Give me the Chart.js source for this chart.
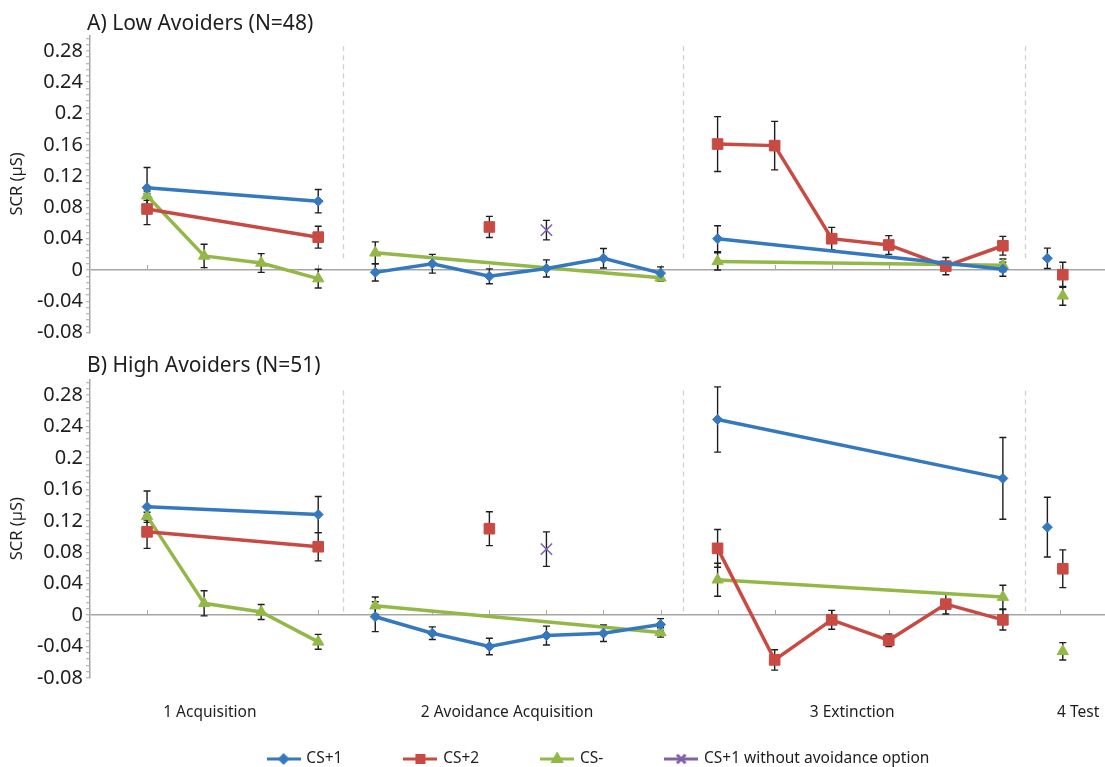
<!DOCTYPE html>
<html>
<head>
<meta charset="utf-8">
<script src="https://cdn.jsdelivr.net/npm/chart.js@4.4.1/dist/chart.umd.min.js"></script>
<style>
  html, body { margin: 0; padding: 0; background: #fff; overflow: hidden; }
  #wrap { position: relative; width: 1105px; height: 767px; }
  canvas { position: absolute; left: 0; }
  #chartA { top: 0; }
  #chartB { top: 340px; }
</style>
</head>
<body>
<div id="wrap">
  <canvas id="chartA" width="1105" height="350"></canvas>
  <canvas id="chartB" width="1105" height="445"></canvas>
</div>
<script>
// trial slots on the x axis and the phase each one belongs to
const trialSlots = [1, 2, 3, 4, 5, 6, 7, 8, 9, 10, 11, 12, 13, 14, 15, 16, 17];
const trialPhase = [1, 1, 1, 1, 2, 2, 2, 2, 2, 2, 3, 3, 3, 3, 3, 3, 4];
const phaseLabels = ['1 Acquisition', '2 Avoidance Acquisition', '3 Extinction', '4 Test'];
const phaseLabelAt = [2.1, 7.31, 13.36, 17.32];
const phaseBreaks = [4.43, 10.39, 16.39];
const yTicks = [-0.08, -0.04, 0, 0.04, 0.08, 0.12, 0.16, 0.2, 0.24, 0.28];
const seriesNames = ['CS+1', 'CS+2', 'CS-', 'CS+1 without avoidance option'];

// A) Low avoiders: means and standard errors per trial slot
const lowCs1 = [0.105, null, null, 0.088, -0.003, 0.008, -0.008, 0.002, 0.015, -0.004, 0.040, null, null, null, null, 0.001, 0.015];
const lowCs1Se = [0.026, null, null, 0.015, 0.011, 0.012, 0.0095, 0.011, 0.0125, 0.008, 0.0166, null, null, null, null, 0.009, 0.013];
const lowCs2 = [0.078, null, null, 0.042, null, null, 0.055, null, null, null, 0.161, 0.159, 0.040, 0.032, 0.005, 0.031, -0.006];
const lowCs2Se = [0.020, null, null, 0.014, null, null, 0.0135, null, null, null, 0.035, 0.031, 0.0145, 0.012, 0.011, 0.012, 0.016];
const lowCsMinus = [0.095, 0.018, 0.009, -0.011, 0.022, null, null, null, null, -0.010, 0.011, null, null, null, null, 0.006, -0.033];
const lowCsMinusSe = [0.006, 0.015, 0.012, 0.012, 0.014, null, null, null, null, 0.004, 0.011, null, null, null, null, 0.008, 0.012];
const lowNoAvoid = [null, null, null, null, null, null, null, 0.051, null, null, null, null, null, null, null, null, null];
const lowNoAvoidSe = [null, null, null, null, null, null, null, 0.0125, null, null, null, null, null, null, null, null, null];

// B) High avoiders
const highCs1 = [0.138, null, null, 0.128, -0.002, -0.023, -0.040, -0.026, -0.023, -0.012, 0.249, null, null, null, null, 0.174, 0.112];
const highCs1Se = [0.020, null, null, 0.023, 0.019, 0.008, 0.0105, 0.012, 0.0105, 0.0075, 0.0415, null, null, null, null, 0.052, 0.038];
const highCs2 = [0.106, null, null, 0.087, null, null, 0.110, null, null, null, 0.085, -0.057, -0.006, -0.032, 0.014, -0.006, 0.059];
const highCs2Se = [0.021, null, null, 0.018, null, null, 0.0215, null, null, null, 0.024, 0.013, 0.012, 0.008, 0.0125, 0.013, 0.024];
const highCsMinus = [0.126, 0.015, 0.004, -0.034, 0.012, null, null, null, null, -0.022, 0.045, null, null, null, null, 0.023, -0.046];
const highCsMinusSe = [0.005, 0.016, 0.0095, 0.0095, 0.011, null, null, null, null, 0.006, 0.021, null, null, null, null, 0.015, 0.011];
const highNoAvoid = [null, null, null, null, null, null, null, 0.084, null, null, null, null, null, null, null, null, null];
const highNoAvoidSe = [null, null, null, null, null, null, null, 0.022, null, null, null, null, null, null, null, null, null];

const seriesColors = ['#3479bf', '#c94a43', '#93b847', '#8062a8'];
const markerStyles = ['rectRot', 'rect', 'triangle', 'crossRot'];
const markerRadius = [5, 7.5, 6.5, 8];
const testShift = [-0.22, 0.05, 0.05, 0];
const FONT = 'Noto Sans';
const GRAY = '#a6a6a6';

// hide the line where it would jump from one phase into the next
function onPhaseBreak(ctx) {
  const data = ctx.chart.data.datasets[ctx.datasetIndex].data;
  let i = ctx.p1DataIndex - 1;
  while (i > 0 && data[i].y === null) i--;
  return trialPhase[i] !== trialPhase[ctx.p1DataIndex] ? 'rgba(0,0,0,0)' : undefined;
}

function buildSets(values, errors) {
  return seriesNames.map((name, si) => ({
    label: name,
    data: trialSlots.map((s, i) => ({
      x: s + (trialPhase[i] === 4 ? testShift[si] : 0),
      y: values[si][i]
    })),
    se: errors[si],
    borderColor: seriesColors[si],
    backgroundColor: seriesColors[si],
    borderWidth: 3.5,
    pointStyle: markerStyles[si],
    pointRadius: markerRadius[si],
    pointBorderWidth: si === 3 ? 1.6 : 1,
    pointBorderColor: seriesColors[si],
    pointBackgroundColor: seriesColors[si],
    showLine: si !== 3,
    spanGaps: true,
    tension: 0,
    segment: { borderColor: onPhaseBreak }
  }));
}

// error bars drawn from each dataset's se array
const errorBars = {
  id: 'errorBars',
  beforeDatasetsDraw(chart) {
    const ctx = chart.ctx;
    const y = chart.scales.y;
    ctx.save();
    ctx.strokeStyle = '#1e1e1e';
    ctx.lineWidth = 1.4;
    chart.data.datasets.forEach((ds, di) => {
      const meta = chart.getDatasetMeta(di);
      ds.se.forEach((se, i) => {
        const v = ds.data[i].y;
        if (v === null || se === null) return;
        const px = meta.data[i].x;
        const top = y.getPixelForValue(v + se);
        const bot = y.getPixelForValue(v - se);
        ctx.beginPath();
        ctx.moveTo(px, top); ctx.lineTo(px, bot);
        ctx.moveTo(px - 3.5, top); ctx.lineTo(px + 3.5, top);
        ctx.moveTo(px - 3.5, bot); ctx.lineTo(px + 3.5, bot);
        ctx.stroke();
      });
    });
    ctx.restore();
  }
};

// dashed phase separators, category ticks, panel title, phase labels
const panelDecor = {
  id: 'panelDecor',
  beforeDatasetsDraw(chart, args, opts) {
    const ctx = chart.ctx;
    const x = chart.scales.x, y = chart.scales.y;
    ctx.save();
    ctx.strokeStyle = '#d0d0d0';
    ctx.lineWidth = 1.3;
    ctx.setLineDash([5, 4]);
    phaseBreaks.forEach(b => {
      const px = Math.round(x.getPixelForValue(b)) + 0.5;
      ctx.beginPath();
      ctx.moveTo(px, y.getPixelForValue(0.286));
      ctx.lineTo(px, y.getPixelForValue(opts.breakBottom));
      ctx.stroke();
    });
    ctx.setLineDash([]);
    ctx.strokeStyle = GRAY;
    ctx.lineWidth = 1;
    const y0 = y.getPixelForValue(0);
    trialSlots.forEach(s => {
      const px = Math.round(x.getPixelForValue(s)) + 0.5;
      ctx.beginPath(); ctx.moveTo(px, y0); ctx.lineTo(px, y0 - 5); ctx.stroke();
    });
    ctx.restore();
  },
  afterDraw(chart, args, opts) {
    const ctx = chart.ctx;
    ctx.save();
    ctx.fillStyle = '#1e1e1e';
    ctx.font = '21px "' + FONT + '"';
    ctx.textAlign = 'left';
    ctx.textBaseline = 'alphabetic';
    ctx.fillText(opts.title, 87, opts.titleBaseline);
    if (opts.phaseY) {
      const x = chart.scales.x;
      ctx.font = '15.5px "' + FONT + '"';
      ctx.textAlign = 'center';
      ctx.textBaseline = 'middle';
      phaseLabels.forEach((t, i) => ctx.fillText(t, x.getPixelForValue(phaseLabelAt[i]), opts.phaseY));
    }
    ctx.restore();
  },
  afterLayout(chart, args, opts) {
    if (opts.legendShift && chart.legend) {
      chart.legend.left += opts.legendShift;
      chart.legend.right += opts.legendShift;
    }
  }
};

function yAxis() {
  return {
    min: -0.08,
    max: 0.3,
    afterBuildTicks(scale) {
      const vals = [];
      yTicks.forEach(t => { for (let k = 0; k < 5; k++) vals.push(k === 0 ? t : t + k * 0.008); });
      scale.ticks = vals.filter(v => v <= 0.2999).map(v => ({ value: v }));
    },
    afterFit(scale) { scale.width = 90; },
    border: { color: GRAY, width: 1.5 },
    grid: {
      drawOnChartArea: true,
      color: c => (c.tick && c.tick.value === 0) ? GRAY : 'rgba(0,0,0,0)',
      lineWidth: 1.5,
      tickColor: GRAY,
      tickLength: 4,
      tickWidth: 1
    },
    ticks: {
      autoSkip: false,
      padding: 3,
      color: '#1e1e1e',
      font: { family: FONT, size: 20 },
      callback: v => yTicks.includes(v) ? String(v) : ''
    },
    title: {
      display: true,
      text: 'SCR (µS)',
      color: '#1e1e1e',
      font: { family: FONT, size: 16.5 },
      padding: { top: 7, bottom: 0 }
    }
  };
}

function legendIcon(si) {
  const c = document.createElement('canvas');
  c.width = 34; c.height = 14;
  const g = c.getContext('2d');
  g.strokeStyle = seriesColors[si];
  g.fillStyle = seriesColors[si];
  g.lineWidth = 3;
  g.beginPath(); g.moveTo(0, 7); g.lineTo(34, 7); g.stroke();
  const r = [3.8, 5, 4.8, 6][si];
  Chart.helpers.drawPoint(g, { pointStyle: markerStyles[si], radius: r, borderWidth: si === 3 ? 1.4 : 1, rotation: 0 }, 17, 7);
  return c;
}

function makeChart(id, values, errors, panel) {
  const isB = panel.legend;
  return new Chart(document.getElementById(id), {
    type: 'line',
    data: { datasets: buildSets(values, errors) },
    plugins: [panelDecor, errorBars],
    options: {
      responsive: false,
      animation: false,
      layout: { padding: panel.padding, autoPadding: false },
      scales: {
        x: {
          type: 'linear',
          min: 0,
          max: 17.79,
          display: isB,
          grid: { display: false, drawTicks: false },
          border: { display: false },
          ticks: { display: false },
          afterFit(scale) { scale.height = isB ? 10.25 : 0; }
        },
        y: yAxis()
      },
      plugins: {
        tooltip: { enabled: false },
        legend: {
          display: isB,
          position: 'bottom',
          labels: {
            usePointStyle: true,
            pointStyleWidth: 30,
            padding: 63,
            color: '#1e1e1e',
            font: { family: FONT, size: 15.5 },
            generateLabels: chart => chart.data.datasets.map((ds, i) => ({
              text: ds.label,
              pointStyle: legendIcon(i),
              fillStyle: seriesColors[i],
              strokeStyle: seriesColors[i],
              lineWidth: 0,
              hidden: false,
              datasetIndex: i,
              fontColor: '#1e1e1e'
            }))
          }
        },
        panelDecor: panel.decor
      }
    }
  });
}

makeChart('chartA',
  [lowCs1, lowCs2, lowCsMinus, lowNoAvoid],
  [lowCs1Se, lowCs2Se, lowCsMinusSe, lowNoAvoidSe],
  { padding: { top: 35.3, bottom: 17.4, left: 0, right: 0 }, legend: false,
    decor: { title: 'A) Low Avoiders (N=48)', titleBaseline: 30, breakBottom: 0.01 } });

makeChart('chartB',
  [highCs1, highCs2, highCsMinus, highNoAvoid],
  [highCs1Se, highCs2Se, highCsMinusSe, highNoAvoidSe],
  { padding: { top: 39.4, bottom: 8.25, left: 0, right: 0 }, legend: true,
    decor: { title: 'B) High Avoiders (N=51)', titleBaseline: 32, breakBottom: 0.0, phaseY: 373, legendShift: 46.5 } });
</script>
</body>
</html>
